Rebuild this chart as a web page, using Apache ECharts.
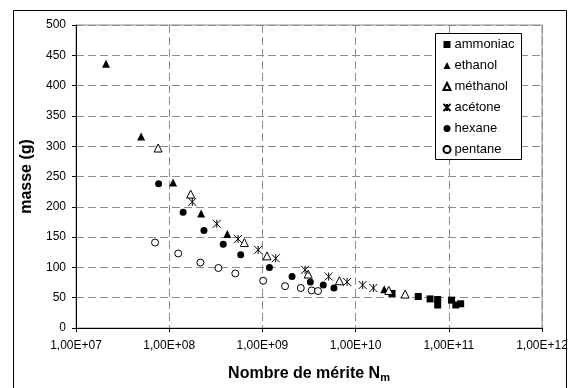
<!DOCTYPE html>
<html>
  <head>
    <meta charset="UTF-8" />
    <title>masse vs Nombre de mérite</title>
    <script src="https://cdn.jsdelivr.net/npm/echarts@6/dist/echarts.min.js"></script>
    <style>
      body { margin: 0; background: #fff; }
    </style>
  </head>
  <body>
    <div id="chart" style="width: 571px; height: 388px"></div>
  </body>
  <script>
// values (N_m on a log scale, masse in g)
let ammoniacN = [2.46e10, 4.7e10, 6.3e10, 7.6e10, 7.6e10, 1.07e11, 1.19e11, 1.34e11];
let ammoniacM = [57, 52, 48, 47, 38, 46, 38, 40];

let ethanolN = [2.1e7, 5.0e7, 1.1e8, 2.2e8, 4.2e8, 2.03e10];
let ethanolM = [436, 316, 240, 189, 155, 64];

let methanolN = [7.6e7, 1.7e8, 6.4e8, 1.12e9, 3.1e9, 6.7e9, 2.27e10, 3.4e10];
let methanolM = [297, 221, 141, 119, 89, 78, 62, 56];

let acetoneN = [1.77e8, 3.24e8, 5.47e8, 9.0e8, 1.39e9, 2.87e9, 5.14e9, 8.1e9, 1.19e10, 1.55e10];
let acetoneM = [208, 172, 147, 129, 115, 96, 85, 76, 71, 66];

let hexaneN = [7.7e7, 1.41e8, 2.36e8, 3.8e8, 5.85e8, 1.19e9, 2.08e9, 3.27e9, 4.5e9, 5.86e9];
let hexaneM = [238, 191, 161, 138, 121, 100, 85, 76, 71, 66];

let pentaneN = [7.05e7, 1.25e8, 2.16e8, 3.37e8, 5.12e8, 1.02e9, 1.75e9, 2.58e9, 3.38e9, 3.95e9];
let pentaneM = [141, 123, 108, 99, 90, 78, 69, 66, 62, 61];

let names = ['ammoniac', 'ethanol', 'méthanol', 'acétone', 'hexane', 'pentane'];

function pairs(xs, ys) {
    return xs.map((x, i) => [x, ys[i]]);
}

let font = 'Liberation Sans, Arial, sans-serif';
let starPath = 'path://M0,0L10,10M10,0L0,10M5,0L5,10';
let gridLine = { color: '#8c8c8c', type: [8, 4] };

let chart = echarts.init(document.getElementById('chart'));

chart.setOption({
    animation: false,
    textStyle: { fontFamily: font },
    graphic: [
        {
            type: 'rect',
            shape: { x: 13.5, y: 10.5, width: 553, height: 400 },
            style: { fill: 'none', stroke: '#000', lineWidth: 1 },
            z: -1
        },
        // legend frame
        {
            type: 'rect',
            shape: { x: 435.5, y: 33.5, width: 86, height: 126 },
            style: { fill: '#fff', stroke: '#000', lineWidth: 1 },
            z: 3
        }
    ],
    grid: {
        left: 76, right: 29, top: 25, bottom: 60,
        show: true, borderColor: '#8c8c8c', borderWidth: 1
    },
    legend: {
        data: names,
        orient: 'vertical',
        left: 435, top: 33,
        padding: [4, 9, 2, 6],
        itemGap: 6,
        itemWidth: 7, itemHeight: 7,
        textStyle: { fontFamily: font, fontSize: 13, lineHeight: 15, color: '#000', padding: [0, 0, 0, -1] },
        z: 5
    },
    xAxis: {
        type: 'log',
        logBase: 10,
        min: 1e7, max: 1e12,
        name: '{a|Nombre de mérite N}{b|m}',
        nameLocation: 'middle',
        nameGap: 37,
        nameTextStyle: {
            rich: {
                a: { fontFamily: font, fontSize: 16, fontWeight: 'bold', color: '#000' },
                b: { fontFamily: font, fontSize: 11, fontWeight: 'bold', color: '#000', padding: [7, 0, 0, 0] }
            }
        },
        axisLine: { lineStyle: { color: '#000', width: 1 } },
        axisTick: { length: 4, lineStyle: { color: '#000' } },
        minorTick: { show: false },
        axisLabel: {
            margin: 12, fontSize: 12, color: '#000', fontFamily: font,
            formatter: v => {
                let e = Math.round(Math.log10(v));
                return '1,00E+' + (e < 10 ? '0' : '') + e;
            }
        },
        splitLine: { show: true, lineStyle: gridLine }
    },
    yAxis: {
        type: 'value',
        min: 0, max: 500, interval: 50,
        name: 'masse (g)',
        nameLocation: 'middle',
        nameGap: 39,
        nameTextStyle: { fontFamily: font, fontSize: 16, fontWeight: 'bold', color: '#000' },
        axisLine: { show: true, lineStyle: { color: '#000', width: 1 } },
        axisTick: { show: true, length: 4, lineStyle: { color: '#000' } },
        axisLabel: { margin: 10, fontSize: 12, color: '#000', fontFamily: font },
        splitLine: { show: true, lineStyle: gridLine }
    },
    series: [
        {
            name: 'ammoniac', type: 'scatter', symbol: 'rect', symbolSize: 7,
            itemStyle: { color: '#000', opacity: 1 },
            data: pairs(ammoniacN, ammoniacM)
        },
        {
            name: 'ethanol', type: 'scatter', symbol: 'triangle', symbolSize: 8,
            itemStyle: { color: '#000', opacity: 1 },
            data: pairs(ethanolN, ethanolM)
        },
        {
            name: 'méthanol', type: 'scatter', symbol: 'triangle', symbolSize: 8,
            itemStyle: { color: '#fff', borderColor: '#000', borderWidth: 1, opacity: 1 },
            data: pairs(methanolN, methanolM)
        },
        {
            name: 'acétone', type: 'scatter', symbol: starPath, symbolSize: 8,
            itemStyle: { color: 'none', borderColor: '#000', borderWidth: 1, opacity: 1 },
            data: pairs(acetoneN, acetoneM)
        },
        {
            name: 'hexane', type: 'scatter', symbol: 'circle', symbolSize: 7,
            itemStyle: { color: '#000', opacity: 1 },
            data: pairs(hexaneN, hexaneM)
        },
        {
            name: 'pentane', type: 'scatter', symbol: 'circle', symbolSize: 7,
            itemStyle: { color: '#fff', borderColor: '#000', borderWidth: 1, opacity: 1 },
            data: pairs(pentaneN, pentaneM)
        }
    ]
});
  </script>
</html>
